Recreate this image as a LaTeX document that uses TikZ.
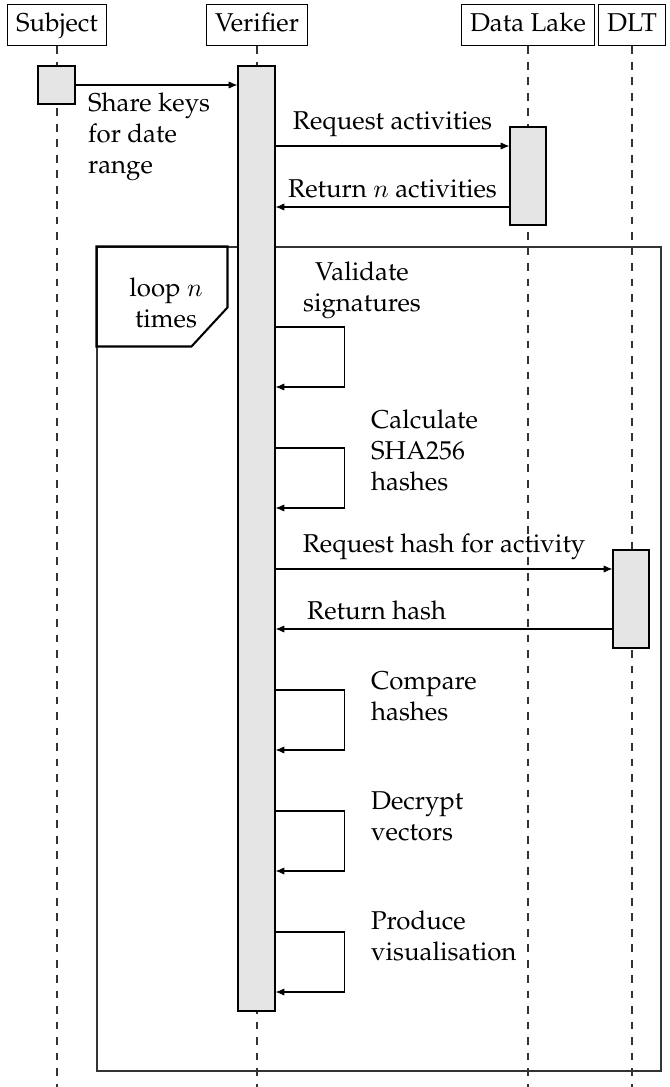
\documentclass[tikz,border=0pt]{standalone}
\usepackage[T1]{fontenc}
\renewcommand{\rmdefault}{ppl}
\usetikzlibrary{arrows.meta,fit}

\begin{document}
\begin{tikzpicture}[
  x=0.3876pt, y=-0.3876pt,
  party/.style={draw, inner sep=3.33pt, text height=7pt, text depth=2.4pt, anchor=north},
  lifeline/.style={dashed, black!80},
  act/.style={draw, fill=black!10, inner sep=0pt},
  frame/.style={draw, black!80, inner sep=0pt},
  msg/.style={-{Latex[length=3.4pt,width=2.8pt]}},
  lbl/.style={align=left, anchor=west}
]
\useasboundingbox (0,0) rectangle (669,1087);
\coordinate (bottom) at (0,1087);

% the four parties and their lifelines
\node[party] (subj) at (57,4) {Subject};
\node[party] (ver) at (257,4) {Verifier};
\node[party] (lake) at (528,4) {Data Lake};
\node[party] (dlt) at (632,4) {DLT};
\draw[lifeline] (subj) -- (subj |- bottom);
\draw[lifeline] (ver) -- (ver |- bottom);
\draw[lifeline] (lake) -- (lake |- bottom);
\draw[lifeline] (dlt) -- (dlt |- bottom);

% loop frame
\node[frame, fit={(97,247) (661,1071)}] (loop) {};
\draw[thick] (loop.north west) -- ++(131,0) -- ++(0,61) -- ++(-36,39) -- ++(-95,0) -- cycle;
\node[align=center] (looplbl) at (166,303) {loop $n$\\times};

% activations
\node[act, fit={(38,66) (75,104)}] (subjact) {};
\node[act, fit={(238,66) (275,1011)}] (veract) {};
\node[act, fit={(510,127) (546,225)}] (lakeact) {};
\node[act, fit={(613,550) (649,648)}] (dltact) {};

% message levels
\coordinate (reqact) at (0,146);
\coordinate (retact) at (0,207);
\coordinate (reqhash) at (0,569);
\coordinate (rethash) at (0,629);

\draw[msg] (subjact.east) -- (subjact.east -| veract.west);
\node[lbl] (sharelbl) at (79,137) {Share keys\\for date\\range};

\draw[msg] (veract.east |- reqact) -- node[above] {Request activities} (lakeact.west |- reqact);
\draw[msg] (lakeact.west |- retact) -- node[above] {Return $n$ activities} (veract.east |- retact);

% self calls
\coordinate (valid) at (0,327);
\coordinate (calc) at (0,448);
\coordinate (comp) at (0,690);
\coordinate (decr) at (0,811);
\coordinate (prod) at (0,932);

\draw[msg] (veract.east |- valid) -- ++(69,0) -- ++(0,60) -- (veract.east |- 0,387);
\node[align=center] (validlbl) at (362,290) {Validate\\signatures};

\draw[msg] (veract.east |- calc) -- ++(69,0) -- ++(0,60) -- (veract.east |- 0,508);
\node[lbl] (calclbl) at (362,450) {Calculate\\SHA256\\hashes};

\draw[msg] (veract.east |- reqhash) -- node[above] {Request hash for activity} (dltact.west |- reqhash);
\draw[msg] (dltact.west |- rethash) -- node[above, pos=0.7] {Return hash} (veract.east |- rethash);

\draw[msg] (veract.east |- comp) -- ++(69,0) -- ++(0,60) -- (veract.east |- 0,750);
\node[lbl] (complbl) at (362,696) {Compare\\hashes};

\draw[msg] (veract.east |- decr) -- ++(69,0) -- ++(0,60) -- (veract.east |- 0,871);
\node[lbl] (decrlbl) at (362,816) {Decrypt\\vectors};

\draw[msg] (veract.east |- prod) -- ++(69,0) -- ++(0,60) -- (veract.east |- 0,992);
\node[lbl] (prodlbl) at (362,936) {Produce\\visualisation};
\end{tikzpicture}
\end{document}
